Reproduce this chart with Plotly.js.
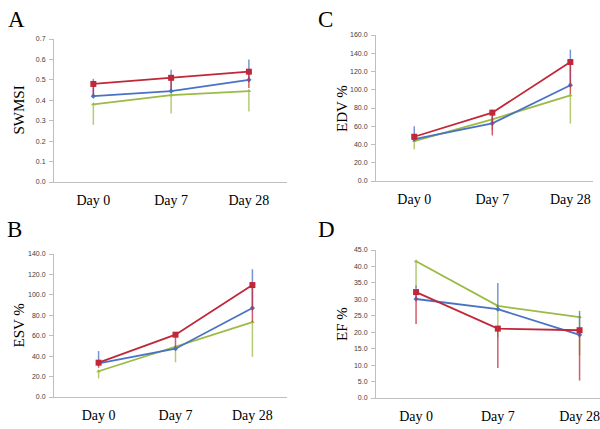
<!DOCTYPE html>
<html><head><meta charset="utf-8">
<script src="https://cdn.plot.ly/plotly-3.0.1.min.js"></script>
<style>html,body{margin:0;padding:0;background:#fff}#g{width:600px;height:429px}</style>
</head><body><div id="g"></div>
<script>
const days = ["Day 0", "Day 7", "Day 28"];

// Panel A: SWMSI
const swmsiRed = [0.48, 0.51, 0.54];
const swmsiBlue = [0.42, 0.445, 0.50];
const swmsiGreen = [0.38, 0.425, 0.445];
const swmsiRedErrMinus = [0.06, 0.06, 0.08];
const swmsiBlueErrPlus = [0.085, 0.105, 0.10];
const swmsiGreenErrMinus = [0.10, 0.09, 0.10];

// Panel C: EDV %
const edvRed = [48.5, 74.9, 130.4];
const edvBlue = [46.0, 63.2, 105.0];
const edvGreen = [43.8, 67.6, 93.9];
const edvRedErrMinus = [4, 25, 35];
const edvBlueErrPlus = [14, 15, 39];
const edvGreenErrMinus = [9, 12, 31];

// Panel B: ESV %
const esvRed = [33.6, 61.0, 109.6];
const esvBlue = [33.0, 47.3, 87.1];
const esvGreen = [25.2, 49.0, 73.4];
const esvRedErrMinus = [5, 12, 36];
const esvBlueErrPlus = [12, 1, 38];
const esvGreenErrMinus = [7, 15, 34];

// Panel D: EF %
const efRed = [32.2, 21.1, 20.6];
const efBlue = [30.1, 27.0, 19.2];
const efGreen = [41.6, 28.0, 24.6];
const efRedErrMinus = [9.7, 12.0, 15.3];
const efBlueErrPlus = [4, 8, 7.3];
const efGreenErrMinus = [8, 9.5, 11.6];

const RED = "#c0283a", BLUE = "#4a72c4", GREEN = "#9bbb45";
const RED_E = "rgba(192,40,58,0.75)", BLUE_E = "rgba(74,114,196,0.75)", GREEN_E = "rgba(155,187,69,0.75)";
const SERIF = "Liberation Serif";

function series(y, color, ecolor, sym, size, errPlus, errMinus, xa, ya) {
  return {
    type: "scatter", mode: "lines+markers", x: days, y: y,
    xaxis: xa, yaxis: ya,
    line: {color: color, width: 1.8},
    marker: {color: color, symbol: sym, size: size},
    error_y: {type: "data", symmetric: false,
      array: errPlus || [0,0,0], arrayminus: errMinus || [0,0,0],
      color: ecolor, thickness: 1.5, width: 0},
    showlegend: false, hoverinfo: "skip"
  };
}

function panel(red, blue, green, rM, bP, gM, xa, ya) {
  return [
    series(green, GREEN, GREEN_E, "triangle-up", 4, null, gM, xa, ya),
    series(blue, BLUE, BLUE_E, "diamond", 4, bP, null, xa, ya),
    series(red, RED, RED_E, "square", 6, null, rM, xa, ya)
  ];
}

const data = [].concat(
  panel(swmsiRed, swmsiBlue, swmsiGreen, swmsiRedErrMinus, swmsiBlueErrPlus, swmsiGreenErrMinus, "x", "y"),
  panel(edvRed, edvBlue, edvGreen, edvRedErrMinus, edvBlueErrPlus, edvGreenErrMinus, "x2", "y2"),
  panel(esvRed, esvBlue, esvGreen, esvRedErrMinus, esvBlueErrPlus, esvGreenErrMinus, "x3", "y3"),
  panel(efRed, efBlue, efGreen, efRedErrMinus, efBlueErrPlus, efGreenErrMinus, "x4", "y4")
);

const W = 600, H = 429;
function xd(a, b) { return [a / W, b / W]; }
function yd(top, bottom) { return [1 - bottom / H, 1 - top / H]; }

function xax(dom, range, anchor) {
  return {domain: dom, anchor: anchor, type: "category", range: range,
    showline: true, linecolor: "#bfbfbf", linewidth: 1, showgrid: false, zeroline: false,
    ticks: "", ticklabelstandoff: 5,
    tickfont: {family: SERIF, size: 14, color: "#000", weight: "normal"}};
}
function yax(dom, range, dtick, anchor) {
  return {domain: dom, anchor: anchor, range: range, dtick: dtick, tick0: 0, tickformat: ".1f",
    showline: true, linecolor: "#bfbfbf", linewidth: 1, showgrid: false, zeroline: false,
    ticks: "outside", ticklen: 4, tickcolor: "#bfbfbf", ticklabelstandoff: 2,
    tickfont: {family: "Liberation Sans", size: 7, color: "#404040"}};
}

const letterFont = {family: SERIF, size: 23, color: "#000"};
const titleFont = {family: SERIF, size: 15, color: "#000"};
function letter(t, x, y) {
  return {text: t, x: x / W, y: 1 - y / H, xref: "paper", yref: "paper", xanchor: "left", yanchor: "top", showarrow: false, font: letterFont};
}
function ytitle(t, x, yTop, yBot) {
  return {text: t, x: x / W, y: 1 - ((yTop + yBot) / 2) / H, xref: "paper", yref: "paper", xanchor: "center", yanchor: "middle", textangle: -90, showarrow: false, font: titleFont};
}

const layout = {
  width: W, height: H, margin: {l: 0, r: 0, t: 0, b: 0},
  paper_bgcolor: "#fff", plot_bgcolor: "#fff",
  xaxis: xax(xd(54, 287), [-0.506, 2.49], "y"),
  yaxis: yax(yd(39, 182), [0, 0.7], 0.1, "x"),
  xaxis2: xax(xd(376, 593), [-0.49, 2.29], "y2"),
  yaxis2: yax(yd(35, 181), [0, 160], 20, "x2"),
  xaxis3: xax(xd(54, 287), [-0.58, 2.45], "y3"),
  yaxis3: yax(yd(254, 397), [0, 140], 20, "x3"),
  xaxis4: xax(xd(376, 600), [-0.49, 2.25], "y4"),
  yaxis4: yax(yd(250, 398), [0, 45], 5, "x4"),
  annotations: [
    letter("A", 6, 5), letter("C", 316, 5), letter("B", 5, 215), letter("D", 316, 215),
    ytitle("SWMSI", 18, 39, 182),
    ytitle("EDV %", 342, 35, 181),
    ytitle("ESV %", 18, 254, 397),
    ytitle("EF %", 342, 250, 398)
  ]
};

Plotly.newPlot("g", data, layout, {staticPlot: true, displayModeBar: false});
</script>
</body></html>
